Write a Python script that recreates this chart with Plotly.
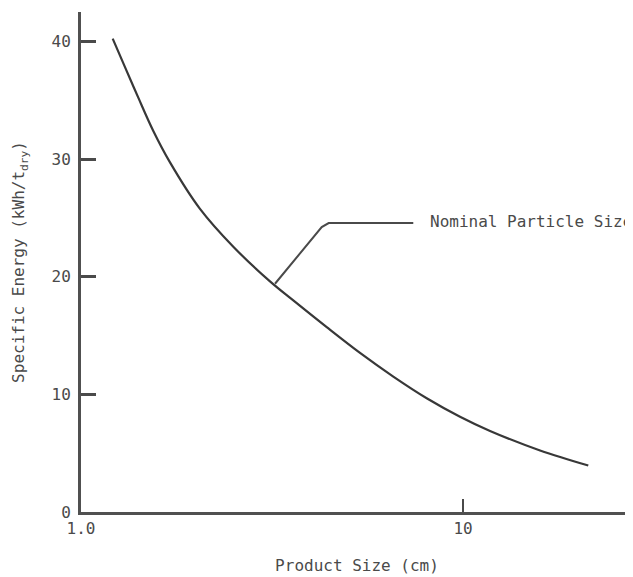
import plotly.graph_objects as go
import math

# Data
product_size_cm = [1.2105, 1.296, 1.4125, 1.5463, 1.710, 2.0487, 2.5043, 3.1244, 3.5953,
                   4.3975, 5.375, 6.5695, 8.0343, 9.8209, 11.77, 15.91, 21.28]
specific_energy = [40.24, 38.01, 35.22, 32.39, 29.72, 25.77, 22.55, 19.60, 17.98,
                   15.71, 13.52, 11.51, 9.67, 8.10, 6.89, 5.23, 3.95]

x_tick_vals = [1, 10]
x_tick_text = ["1.0", "10"]
y_tick_vals = [0, 10, 20, 30, 40]

annotation_text = "Nominal Particle Size"

FONT = "DejaVu Sans Mono"
INK = "#4a4a4a"

fig = go.Figure()

fig.add_trace(go.Scatter(
    x=product_size_cm, y=specific_energy, mode="lines",
    line=dict(color="#383838", width=2.2, shape="spline", smoothing=1.0),
    hoverinfo="skip", showlegend=False,
))

# leader line for the annotation
leader_x = [3.22, 4.267, 4.45, 7.41]
leader_y = [19.40, 24.22, 24.56, 24.56]
fig.add_trace(go.Scatter(
    x=leader_x, y=leader_y, mode="lines",
    line=dict(color="#4a4a4a", width=2),
    hoverinfo="skip", showlegend=False,
))

fig.add_annotation(
    x=math.log10(8.10), y=24.7, xref="x", yref="y",
    text=annotation_text, showarrow=False, xanchor="left", yanchor="middle",
    font=dict(family=FONT, size=16, color=INK),
)

fig.update_xaxes(
    type="log", range=[0, 1.445],
    tickvals=x_tick_vals, ticktext=x_tick_text,
    ticks="inside", ticklen=13, tickwidth=2, tickcolor=INK,
    showline=True, linecolor="#505050", linewidth=2.5,
    showgrid=False, zeroline=False,
    tickfont=dict(family=FONT, size=16, color=INK),
    title=dict(text="Product Size (cm)", font=dict(family=FONT, size=16, color=INK), standoff=23),
)
fig.update_yaxes(
    range=[0, 42.5],
    tickvals=y_tick_vals,
    ticks="inside", ticklen=15, tickwidth=2.5, tickcolor=INK,
    showline=True, linecolor="#505050", linewidth=3,
    showgrid=False, zeroline=False,
    ticklabelstandoff=4,
    tickfont=dict(family=FONT, size=16, color=INK),
    title=dict(text="Specific Energy (kWh/t<sub>dry</sub>)",
               font=dict(family=FONT, size=16, color=INK), standoff=23),
)

# page body has an 8px default margin, so the figure is 8px smaller
fig.update_layout(
    width=625, height=569,
    margin=dict(l=73, r=0, t=4, b=65, autoexpand=False),
    paper_bgcolor="white", plot_bgcolor="white",
    showlegend=False,
)

fig.write_html("out.html")
